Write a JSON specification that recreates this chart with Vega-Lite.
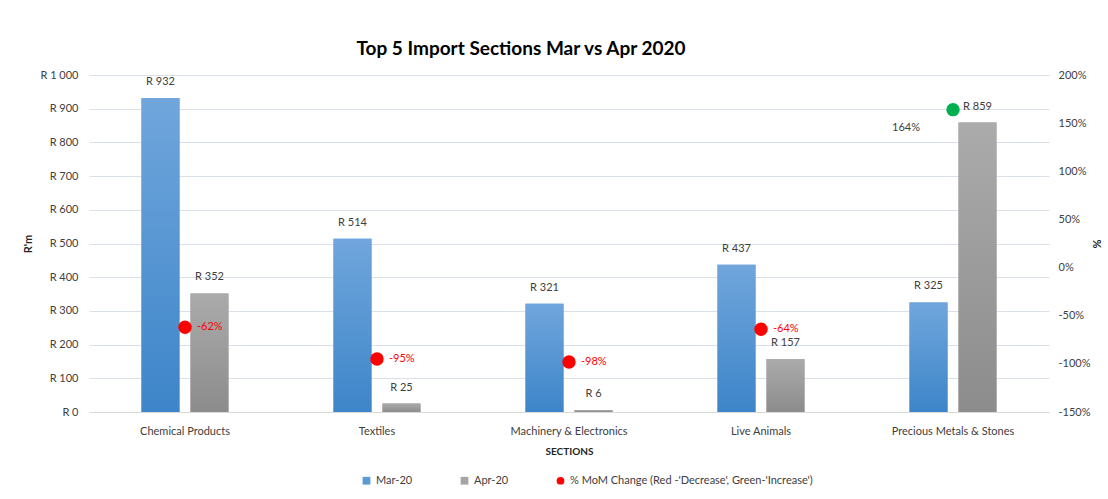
{
  "$schema": "https://vega.github.io/schema/vega-lite/v6.json",
  "width": 960,
  "height": 337,
  "padding": {"left": 22, "top": 40, "right": 3, "bottom": 0},
  "background": "white",
  "title": {"text": "Top 5 Import Sections Mar vs Apr 2020", "font": "Lato", "fontSize": 19, "fontWeight": "bold", "color": "#000000", "offset": 10, "dx": -48},
  "config": {
    "font": "Lato",
    "view": {"stroke": null},
    "axis": {"labelFont": "Lato", "labelFontSize": 11, "labelColor": "#404040", "titleFont": "Lato", "titleColor": "#262626", "titleFontSize": 10, "titleFontWeight": "bold", "ticks": false, "domain": false, "grid": false},
    "legend": {"orient": "none", "legendX": 272, "legendY": 400, "direction": "horizontal", "labelFont": "Lato", "labelFontSize": 11, "labelColor": "#404040", "labelLimit": 400, "symbolSize": 60, "columnPadding": 46, "title": null}
  },
  "datasets": {
    "bars": [
      {"section": "Chemical Products", "series": "Mar-20", "value": 932},
      {"section": "Chemical Products", "series": "Apr-20", "value": 352},
      {"section": "Textiles", "series": "Mar-20", "value": 514},
      {"section": "Textiles", "series": "Apr-20", "value": 25},
      {"section": "Machinery & Electronics", "series": "Mar-20", "value": 321},
      {"section": "Machinery & Electronics", "series": "Apr-20", "value": 6},
      {"section": "Live Animals", "series": "Mar-20", "value": 437},
      {"section": "Live Animals", "series": "Apr-20", "value": 157},
      {"section": "Precious Metals & Stones", "series": "Mar-20", "value": 325},
      {"section": "Precious Metals & Stones", "series": "Apr-20", "value": 859}
    ],
    "pct": [
      {"section": "Chemical Products", "pct": -62, "series": "% MoM Change (Red -'Decrease', Green-'Increase')"},
      {"section": "Textiles", "pct": -95, "series": "% MoM Change (Red -'Decrease', Green-'Increase')"},
      {"section": "Machinery & Electronics", "pct": -98, "series": "% MoM Change (Red -'Decrease', Green-'Increase')"},
      {"section": "Live Animals", "pct": -64, "series": "% MoM Change (Red -'Decrease', Green-'Increase')"},
      {"section": "Precious Metals & Stones", "pct": 164, "series": "Increase"}
    ]
  },
  "layer": [
    {
      "data": {"name": "bars"},
      "transform": [{"calculate": "'R  ' + datum.value", "as": "label"}],
      "encoding": {
        "x": {"field": "section", "type": "nominal", "title": "SECTIONS",
              "sort": ["Chemical Products", "Textiles", "Machinery & Electronics", "Live Animals", "Precious Metals & Stones"],
              "scale": {"paddingInner": 0.547, "paddingOuter": 0.2734},
              "axis": {"labelAngle": 0, "domain": true, "domainColor": "#d9d9d9", "labelPadding": 13, "titlePadding": 10}},
        "xOffset": {"field": "series", "type": "nominal", "sort": ["Mar-20", "Apr-20"], "scale": {"domain": ["Mar-20", "Apr-20"], "paddingInner": 0.2245, "paddingOuter": 0}},
        "y": {"field": "value", "type": "quantitative", "title": "R'm",
              "scale": {"domain": [0, 1000]},
              "axis": {"orient": "left", "grid": true, "gridColor": "#d9e0e9", "values": [0, 100, 200, 300, 400, 500, 600, 700, 800, 900, 1000],
                       "labelExpr": "datum.value == 1000 ? 'R 1 000' : 'R ' + datum.value", "labelPadding": 11, "titlePadding": 6, "titleFontSize": 11}}
      },
      "layer": [
        {"mark": {"type": "bar"},
         "encoding": {"color": {"field": "series", "type": "nominal",
            "scale": {"domain": ["Mar-20", "Apr-20", "% MoM Change (Red -'Decrease', Green-'Increase')", "Increase"], "range": ["#5b9bd5", "#a5a5a5", "#ff0000", "#00b050"]},
            "legend": {"values": ["Mar-20", "Apr-20", "% MoM Change (Red -'Decrease', Green-'Increase')"]}}}},
        {"transform": [{"filter": "datum.series == 'Mar-20'"}],
         "mark": {"type": "bar", "color": {"gradient": "linear", "x1": 0, "y1": 0, "x2": 0, "y2": 1, "stops": [{"offset": 0, "color": "#70a6dc"}, {"offset": 1, "color": "#3d85c9"}]}}},
        {"transform": [{"filter": "datum.series == 'Apr-20'"}],
         "mark": {"type": "bar", "color": {"gradient": "linear", "x1": 0, "y1": 0, "x2": 0, "y2": 1, "stops": [{"offset": 0, "color": "#ababab"}, {"offset": 1, "color": "#8c8c8c"}]}}},
        {"mark": {"type": "text", "baseline": "middle", "dy": -16, "fontSize": 11, "color": "#404040"},
         "encoding": {"text": {"field": "label"}}}
      ]
    },
    {
      "data": {"name": "pct"},
      "transform": [{"calculate": "datum.pct + '%'", "as": "plabel"}],
      "encoding": {
        "x": {"field": "section", "type": "nominal", "title": "SECTIONS",
              "sort": ["Chemical Products", "Textiles", "Machinery & Electronics", "Live Animals", "Precious Metals & Stones"]},
        "y": {"field": "pct", "type": "quantitative", "title": "%",
              "scale": {"domain": [-150, 200]},
              "axis": {"orient": "right", "values": [-150, -100, -50, 0, 50, 100, 150, 200], "labelExpr": "datum.value + '%'", "labelPadding": 9, "titlePadding": 0, "titleFontSize": 11}}
      },
      "layer": [
        {"mark": {"type": "point", "filled": true, "size": 180, "opacity": 1},
         "encoding": {
           "color": {"field": "series", "type": "nominal"},
           "shape": {"field": "series", "type": "nominal",
             "scale": {"domain": ["Mar-20", "Apr-20", "% MoM Change (Red -'Decrease', Green-'Increase')", "Increase"], "range": ["square", "square", "circle", "circle"]},
             "legend": {"values": ["Mar-20", "Apr-20", "% MoM Change (Red -'Decrease', Green-'Increase')"]}}
         }},
        {"transform": [{"filter": "datum.pct < 0"}],
         "mark": {"type": "text", "align": "left", "baseline": "middle", "dx": 12, "fontSize": 11, "color": "#ff0000"},
         "encoding": {"text": {"field": "plabel"}}},
        {"transform": [{"filter": "datum.pct >= 0"}],
         "mark": {"type": "text", "align": "right", "baseline": "middle", "dx": -33, "dy": 18, "fontSize": 11, "color": "#404040"},
         "encoding": {"text": {"field": "plabel"}}}
      ]
    }
  ],
  "resolve": {"scale": {"y": "independent"}}
}
